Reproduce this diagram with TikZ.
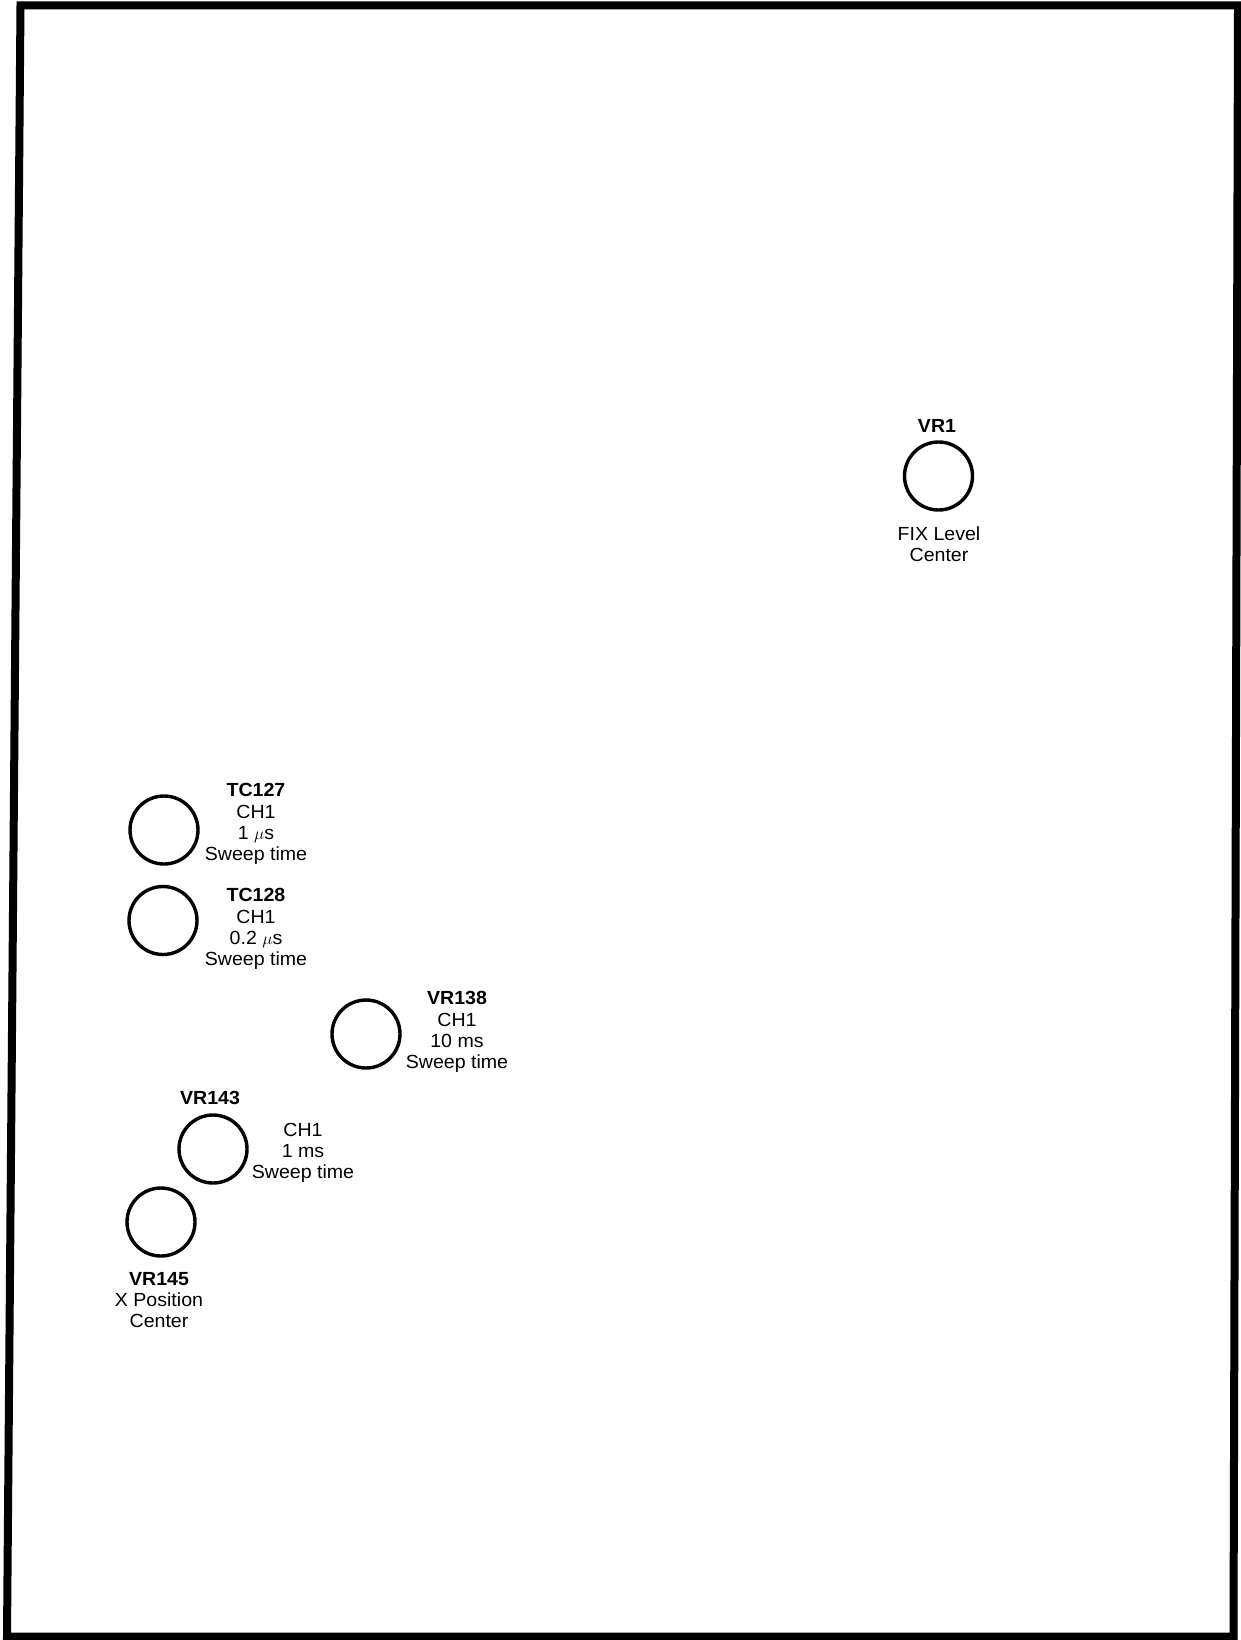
\documentclass[tikz,border=0pt]{standalone}
\usepackage{fontspec}
\setmainfont{Liberation Sans}[FakeStretch=1.03]
\begin{document}
\begin{tikzpicture}[x=1pt,y=-1pt,
  knob/.style={circle,draw=black,line width=3.4pt,minimum size=68pt,inner sep=0pt},
  lbl/.style={align=center,inner sep=0pt,font=\fontsize{19}{21.3}\selectfont},
  frame/.style={draw=black,line width=8pt,line join=miter}]
\useasboundingbox (0,0) rectangle (1241,1640);
\draw[frame] (20.5,5.5) -- (1238,5.5) -- (1233.5,1636.5) -- (7,1636.5) -- cycle;
% knobs
\node[knob] (vr1) at (938.5,476) {};
\node[knob] (tc127) at (164,830) {};
\node[knob] (tc128) at (163,920.5) {};
\node[knob] (vr138) at (366,1034) {};
\node[knob] (vr143) at (213,1149) {};
\node[knob] (vr145) at (161,1222) {};
% labels
\node[lbl] (vr1name) at (937,426) {\textbf{VR1}};
\node[lbl] (vr1text) at (939,544) {FIX Level\\Center};
\node[lbl] (tc127text) at (256,824) {\textbf{TC127}\\CH1\\1 $\mu$s\\Sweep time};
\node[lbl] (tc128text) at (256,929) {\textbf{TC128}\\CH1\\0.2 $\mu$s\\Sweep time};
\node[lbl] (vr138text) at (457,1032) {\textbf{VR138}\\CH1\\10 ms\\Sweep time};
\node[lbl] (vr143name) at (210,1098) {\textbf{VR143}};
\node[lbl] (vr143text) at (303,1153) {CH1\\1 ms\\Sweep time};
\node[lbl] (vr145text) at (159,1300) {\textbf{VR145}\\X Position\\Center};
\end{tikzpicture}
\end{document}
